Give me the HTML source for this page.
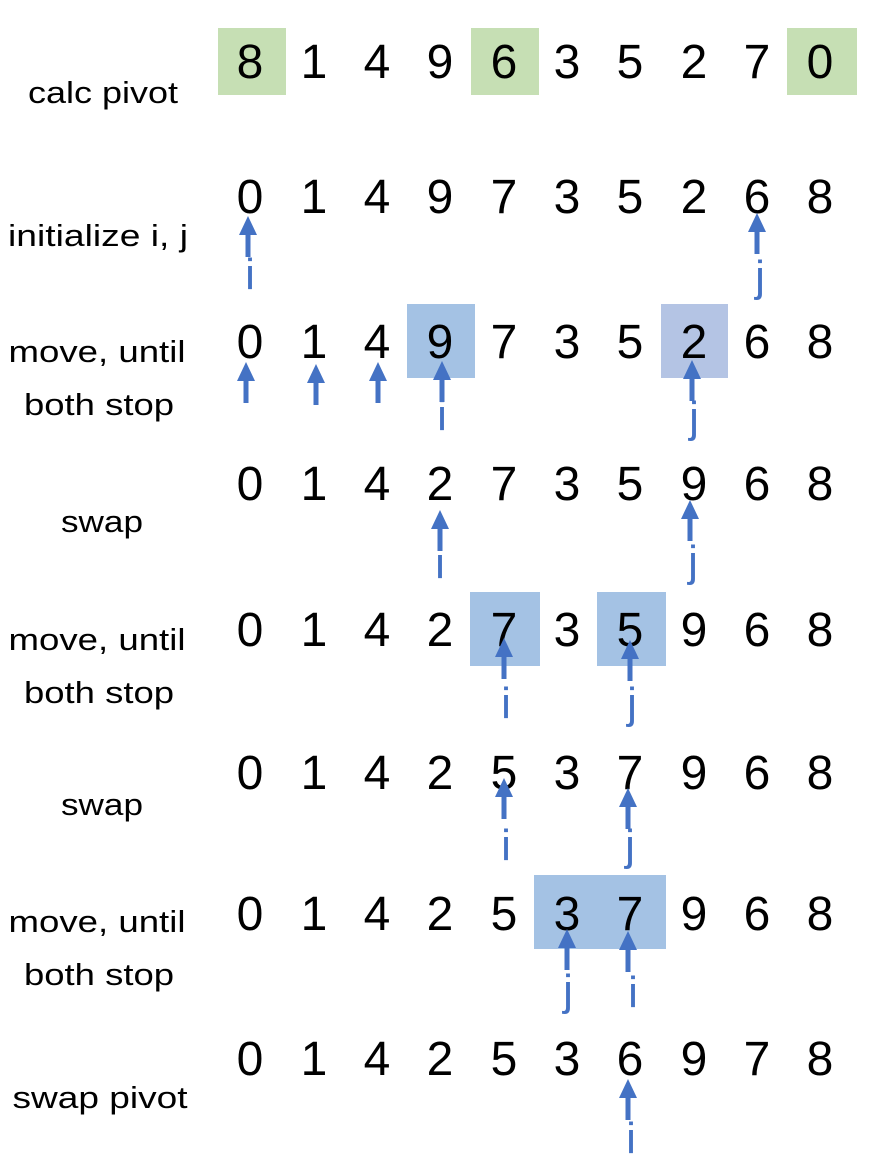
<!DOCTYPE html>
<html><head><meta charset="utf-8"><style>
html,body{margin:0;padding:0;background:#fff;}
svg{display:block;}
.d{font-family:"Liberation Sans",sans-serif;font-size:48px;fill:#000;text-anchor:middle;}
.l{font-family:"Liberation Sans",sans-serif;font-size:31px;fill:#000;text-anchor:middle;}
.p{font-family:"Liberation Sans",sans-serif;font-size:44px;fill:#4472c4;text-anchor:middle;}
</style></head><body>
<svg width="882" height="1164" viewBox="0 0 882 1164" xmlns="http://www.w3.org/2000/svg">
<defs>
<g id="ar"><polygon points="0,0 -9,19 9,19" fill="#4472c4"/><rect x="-2.5" y="18" width="5" height="23" fill="#4472c4"/></g>
</defs>
<rect x="218" y="28" width="68" height="67" fill="#c6dfb4"/>
<rect x="471" y="28" width="68" height="67" fill="#c6dfb4"/>
<rect x="787" y="28" width="70" height="67" fill="#c6dfb4"/>
<rect x="407" y="304" width="68" height="74" fill="#a4c2e4"/>
<rect x="661" y="304" width="67" height="74" fill="#b4c4e4"/>
<rect x="470" y="592" width="70" height="74" fill="#a4c2e4"/>
<rect x="597" y="592" width="69" height="74" fill="#a4c2e4"/>
<rect x="534" y="875" width="132" height="74" fill="#a4c2e4"/>

<text class="l" x="103" y="103" textLength="150" lengthAdjust="spacingAndGlyphs">calc pivot</text>
<text class="l" x="98" y="246" textLength="180" lengthAdjust="spacingAndGlyphs">initialize i, j</text>
<text class="l" x="97" y="362" textLength="177" lengthAdjust="spacingAndGlyphs">move, until</text>
<text class="l" x="99" y="415" textLength="150" lengthAdjust="spacingAndGlyphs">both stop</text>
<text class="l" x="102" y="532" textLength="82" lengthAdjust="spacingAndGlyphs">swap</text>
<text class="l" x="97" y="650" textLength="177" lengthAdjust="spacingAndGlyphs">move, until</text>
<text class="l" x="99" y="703" textLength="150" lengthAdjust="spacingAndGlyphs">both stop</text>
<text class="l" x="102" y="815" textLength="82" lengthAdjust="spacingAndGlyphs">swap</text>
<text class="l" x="97" y="932" textLength="177" lengthAdjust="spacingAndGlyphs">move, until</text>
<text class="l" x="99" y="985" textLength="150" lengthAdjust="spacingAndGlyphs">both stop</text>
<text class="l" x="100" y="1108" textLength="175" lengthAdjust="spacingAndGlyphs">swap pivot</text>

<g class="d">
<text x="250" y="78">8</text><text x="314" y="78">1</text><text x="377" y="78">4</text><text x="440" y="78">9</text><text x="504" y="78">6</text><text x="567" y="78">3</text><text x="630" y="78">5</text><text x="694" y="78">2</text><text x="757" y="78">7</text><text x="820" y="78">0</text>
<text x="250" y="213">0</text><text x="314" y="213">1</text><text x="377" y="213">4</text><text x="440" y="213">9</text><text x="504" y="213">7</text><text x="567" y="213">3</text><text x="630" y="213">5</text><text x="694" y="213">2</text><text x="757" y="213">6</text><text x="820" y="213">8</text>
<text x="250" y="358">0</text><text x="314" y="358">1</text><text x="377" y="358">4</text><text x="440" y="358">9</text><text x="504" y="358">7</text><text x="567" y="358">3</text><text x="630" y="358">5</text><text x="694" y="358">2</text><text x="757" y="358">6</text><text x="820" y="358">8</text>
<text x="250" y="500">0</text><text x="314" y="500">1</text><text x="377" y="500">4</text><text x="440" y="500">2</text><text x="504" y="500">7</text><text x="567" y="500">3</text><text x="630" y="500">5</text><text x="694" y="500">9</text><text x="757" y="500">6</text><text x="820" y="500">8</text>
<text x="250" y="646">0</text><text x="314" y="646">1</text><text x="377" y="646">4</text><text x="440" y="646">2</text><text x="504" y="646">7</text><text x="567" y="646">3</text><text x="630" y="646">5</text><text x="694" y="646">9</text><text x="757" y="646">6</text><text x="820" y="646">8</text>
<text x="250" y="789">0</text><text x="314" y="789">1</text><text x="377" y="789">4</text><text x="440" y="789">2</text><text x="504" y="789">5</text><text x="567" y="789">3</text><text x="630" y="789">7</text><text x="694" y="789">9</text><text x="757" y="789">6</text><text x="820" y="789">8</text>
<text x="250" y="930">0</text><text x="314" y="930">1</text><text x="377" y="930">4</text><text x="440" y="930">2</text><text x="504" y="930">5</text><text x="567" y="930">3</text><text x="630" y="930">7</text><text x="694" y="930">9</text><text x="757" y="930">6</text><text x="820" y="930">8</text>
<text x="250" y="1075">0</text><text x="314" y="1075">1</text><text x="377" y="1075">4</text><text x="440" y="1075">2</text><text x="504" y="1075">5</text><text x="567" y="1075">3</text><text x="630" y="1075">6</text><text x="694" y="1075">9</text><text x="757" y="1075">7</text><text x="820" y="1075">8</text>
</g>

<use href="#ar" x="248" y="216"/><text class="p" x="250" y="289">i</text>
<use href="#ar" x="757" y="213"/><text class="p" x="760" y="291">j</text>

<use href="#ar" x="246" y="362"/><use href="#ar" x="316" y="364"/><use href="#ar" x="378" y="362"/>
<use href="#ar" x="442" y="361"/><text class="p" x="442" y="430">i</text>
<use href="#ar" x="692" y="360"/><text class="p" x="694" y="432">j</text>

<use href="#ar" x="440" y="510"/><text class="p" x="440" y="578">i</text>
<use href="#ar" x="690" y="500"/><text class="p" x="693" y="576">j</text>

<use href="#ar" x="504" y="638"/><text class="p" x="506" y="718">i</text>
<use href="#ar" x="630" y="640"/><text class="p" x="632" y="718">j</text>

<use href="#ar" x="504" y="778"/><text class="p" x="506" y="860">i</text>
<use href="#ar" x="628" y="788"/><text class="p" x="630" y="860">j</text>

<use href="#ar" x="567" y="929"/><text class="p" x="568" y="1005">j</text>
<use href="#ar" x="628" y="931"/><text class="p" x="633" y="1007">i</text>

<use href="#ar" x="628" y="1079"/><text class="p" x="631" y="1153">i</text>
</svg>
</body></html>
